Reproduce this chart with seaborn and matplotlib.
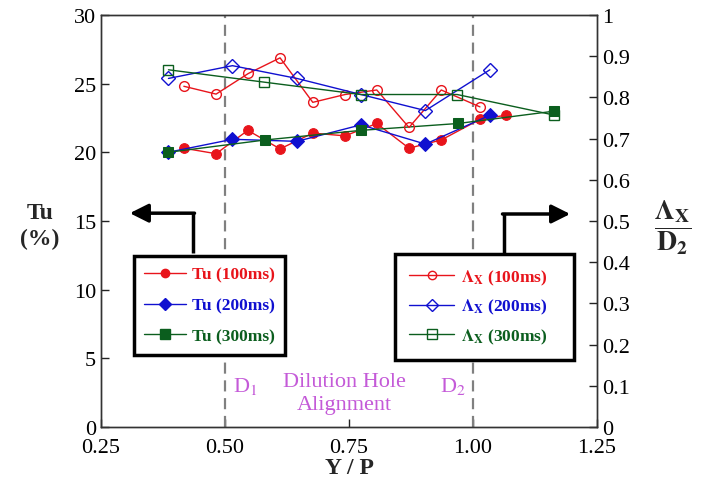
import matplotlib
matplotlib.use("Agg")
import matplotlib.pyplot as plt
from matplotlib.lines import Line2D
import seaborn as sns

# Tu data (left axis, %)
tu100_x = [0.417, 0.482, 0.546, 0.611, 0.677, 0.742, 0.806, 0.871, 0.936, 1.014, 1.066]
tu100 = [20.3, 19.9, 21.6, 20.25, 21.4, 21.2, 22.1, 20.3, 20.9, 22.4, 22.7]
tu200_x = [0.385, 0.515, 0.645, 0.774, 0.904, 1.034]
tu200 = [20.0, 20.95, 20.8, 22.0, 20.6, 22.7]
tu300_x = [0.385, 0.581, 0.774, 0.970, 1.164]
tu300 = [20.0, 20.9, 21.6, 22.1, 23.0]

# Lambda_x / D2 data (right axis)
lx100_x = [0.417, 0.482, 0.547, 0.611, 0.677, 0.742, 0.806, 0.871, 0.936, 1.014]
lx100 = [0.827, 0.808, 0.858, 0.896, 0.788, 0.807, 0.818, 0.727, 0.818, 0.777]
lx200_x = [0.386, 0.515, 0.645, 0.774, 0.904, 1.034]
lx200 = [0.846, 0.877, 0.846, 0.807, 0.768, 0.867]
lx300_x = [0.386, 0.579, 0.774, 0.968, 1.164]
lx300 = [0.867, 0.837, 0.807, 0.807, 0.757]

hole_x = [0.5, 1.0]

RED = "#E8141B"
BLUE = "#1010D0"
GREEN = "#0B5E1E"
PURPLE = "#C45AD8"

sns.set_style("ticks")
plt.rcParams["font.family"] = ["Liberation Serif", "DejaVu Serif"]
plt.rcParams["mathtext.fontset"] = "stix"

fig = plt.figure(figsize=(7.02, 4.89), dpi=100)
ax = fig.add_axes([0.1439, 0.1247, 0.7065, 0.8426])
ax2 = ax.twinx()

# filled markers -> Tu
tu_handles = []
for xs, ys, c, m, ms in [(tu100_x, tu100, RED, "o", 7),
                         (tu200_x, tu200, BLUE, "D", 7),
                         (tu300_x, tu300, GREEN, "s", 7.5)]:
    sns.lineplot(x=xs, y=ys, ax=ax, color=c, marker=m, markersize=ms,
                 markeredgecolor=c, markerfacecolor=c, lw=1, legend=False)
    tu_handles.append(Line2D([], [], color=c, marker=m, markersize=ms - 1,
                             markeredgecolor=c, lw=1))

# open markers -> Lambda
lx_handles = []
for xs, ys, c, m, ms in [(lx100_x, lx100, RED, "o", 7),
                         (lx200_x, lx200, BLUE, "D", 7),
                         (lx300_x, lx300, GREEN, "s", 7.5)]:
    sns.lineplot(x=xs, y=ys, ax=ax2, color=c, marker=m, markersize=ms,
                 markeredgecolor=c, markerfacecolor="none", markeredgewidth=1,
                 lw=1, legend=False)
    lx_handles.append(Line2D([], [], color=c, marker=m, markersize=ms - 1,
                             markeredgecolor=c, markerfacecolor="none", lw=1))

for xv in hole_x:
    ax.axvline(xv, color="#808080", lw=1.6, linestyle=(0, (5, 3)), zorder=1)

ax.set_xlim(0.25, 1.25)
ax.set_ylim(0, 30)
ax2.set_ylim(0, 1)
ax.set_xticks([0.25, 0.5, 0.75, 1.0, 1.25])
ax.set_xticklabels(["0.25", "0.50", "0.75", "1.00", "1.25"])
ax.set_yticks(range(0, 31, 5))
ax2.set_yticks([i / 10 for i in range(11)])
ax2.set_yticklabels(["0"] + ["0.%d" % i for i in range(1, 10)] + ["1"])
for a in (ax, ax2):
    a.tick_params(direction="in", length=6, width=1, labelsize=16, colors="#222222",
                  labelcolor="black")
    for s in a.spines.values():
        s.set_visible(True)
        s.set_linewidth(1)
        s.set_color("#333333")
ax.tick_params(axis="x", pad=8)

ax.set_xlabel("Y / P", fontsize=17, fontweight="bold", labelpad=0)
ax.set_ylabel("")
ax2.set_ylabel("")
ax.text(-0.123, 0.49, "Tu\n(%)", transform=ax.transAxes, ha="center", va="center",
        fontsize=17, fontweight="bold", linespacing=1.3)
ax2.text(1.152, 0.485, r"$\dfrac{\mathbf{\Lambda_X}}{\mathbf{D_2}}$", transform=ax.transAxes,
         ha="center", va="center", fontsize=20)

# dilution hole annotation
ax.text(0.516, 3.0, r"D$_\mathrm{1}$", color=PURPLE, fontsize=16, ha="left", va="center")
ax.text(0.96, 3.0, r"D$_\mathrm{2}$", color=PURPLE, fontsize=16, ha="center", va="center")
ax.text(0.74, 2.5, "Dilution Hole\nAlignment", color=PURPLE, fontsize=16,
        ha="center", va="center", linespacing=1.3)

leg1 = ax2.legend(tu_handles, ["Tu (100ms)", "Tu (200ms)", "Tu (300ms)"],
                  loc="lower left", bbox_to_anchor=(0.066, 0.175), borderaxespad=0,
                  fancybox=False, framealpha=1, edgecolor="black", handlelength=2.4,
                  handletextpad=0.35, labelspacing=0.85, borderpad=0.6,
                  prop={"size": 12.5, "weight": "bold"})
leg1.get_frame().set_linewidth(2.5)
for t, c in zip(leg1.get_texts(), [RED, BLUE, GREEN]):
    t.set_color(c)
ax2.add_artist(leg1)

leg2 = ax2.legend(lx_handles, [r"$\mathbf{\Lambda_X}$ (100ms)", r"$\mathbf{\Lambda_X}$ (200ms)",
                               r"$\mathbf{\Lambda_X}$ (300ms)"],
                  loc="lower left", bbox_to_anchor=(0.593, 0.163, 0.361, 0.25),
                  mode="expand", borderaxespad=0,
                  fancybox=False, framealpha=1, edgecolor="black", handlelength=2.6,
                  handletextpad=0.4, labelspacing=0.6, borderpad=0.8,
                  prop={"size": 12.5, "weight": "bold"})
leg2.get_frame().set_linewidth(2.5)
for t, c in zip(leg2.get_texts(), [RED, BLUE, GREEN]):
    t.set_color(c)

# arrows from legends to their axes
for x0, y0, y1, xtip in [(0.1855, 0.422, 0.519, 0.058), (0.8125, 0.42, 0.517, 0.946)]:
    ax2.plot([x0, x0], [y0, y1], transform=ax.transAxes, color="black", lw=2.5,
             solid_capstyle="butt", zorder=6, clip_on=False)
    ax2.annotate("", xy=(xtip, y1), xytext=(x0 - (0.003 if xtip > x0 else -0.003), y1),
                 xycoords="axes fraction", textcoords="axes fraction",
                 arrowprops=dict(arrowstyle="-|>", lw=2.5, color="black",
                                 mutation_scale=28, shrinkA=0, shrinkB=0), zorder=6)

fig.savefig("out.png", dpi=100)
